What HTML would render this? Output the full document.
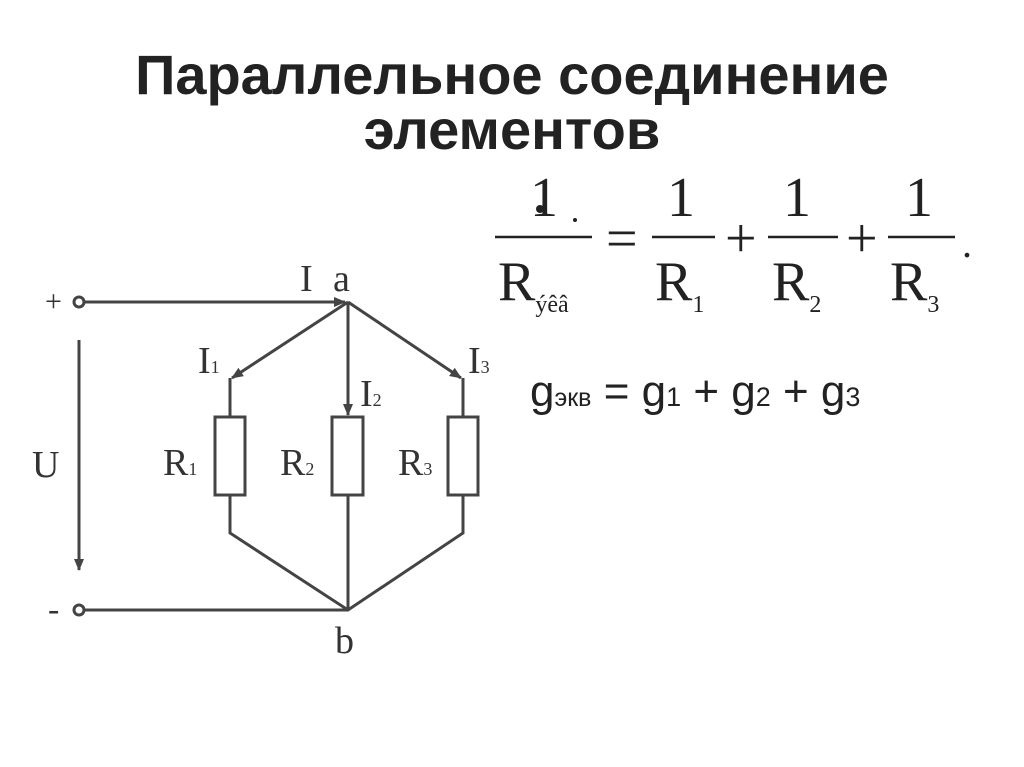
<!DOCTYPE html>
<html><head><meta charset="utf-8"><style>
body{margin:0;background:#fff;width:1024px;height:767px;overflow:hidden;position:relative}
.t{position:absolute;left:0;width:1024px;text-align:center;font:bold 56px "Liberation Sans",sans-serif;color:#222;line-height:55px;top:47px}
svg{position:absolute;left:0;top:0}
</style></head><body>
<div class="t">Параллельное соединение<br>элементов</div>
<svg width="1024" height="767" viewBox="0 0 1024 767">
<defs><marker id="ar" markerWidth="12" markerHeight="10" refX="11" refY="5" orient="auto" markerUnits="userSpaceOnUse"><path d="M0,0 L12,5 L0,10 z" fill="#444"/></marker></defs>
<g stroke="#444" stroke-width="3" fill="none">
<circle cx="79" cy="302" r="5" fill="#fff"/>
<circle cx="79" cy="610" r="5" fill="#fff"/>
<line x1="84" y1="302" x2="345" y2="302" marker-end="url(#ar)"/>
<line x1="84" y1="610" x2="348" y2="610"/>
<line x1="79" y1="340" x2="79" y2="570" marker-end="url(#ar)"/>
<line x1="348" y1="302" x2="232" y2="378" marker-end="url(#ar)"/>
<line x1="348" y1="302" x2="461" y2="378" marker-end="url(#ar)"/>
<line x1="348" y1="302" x2="348" y2="415" marker-end="url(#ar)"/>
<polyline points="230,378 230,417"/><polyline points="463,378 463,417"/>
<rect x="215" y="417" width="30" height="78"/>
<rect x="332" y="417" width="31" height="78"/>
<rect x="448" y="417" width="30" height="78"/>
<polyline points="230,495 230,533 348,610 463,533 463,495"/>
<line x1="348" y1="495" x2="348" y2="610"/>
</g>
<g font-family="Liberation Serif,serif" fill="#333" font-size="38">
<text x="45" y="311" font-size="30">+</text>
<text x="48" y="620" font-size="34">-</text>
<text x="300" y="291">I</text><text x="333" y="291">a</text>
<text x="198" y="373">I<tspan font-size="18">1</tspan></text>
<text x="360" y="406">I<tspan font-size="18">2</tspan></text>
<text x="468" y="373">I<tspan font-size="18">3</tspan></text>
<text x="163" y="475">R<tspan font-size="18">1</tspan></text>
<text x="280" y="475">R<tspan font-size="18">2</tspan></text>
<text x="398" y="475">R<tspan font-size="18">3</tspan></text>
<text x="32" y="477">U</text>
<text x="335" y="653">b</text>
</g>
<g font-family="Liberation Serif,serif" fill="#222" font-size="56" stroke="none">
<text x="530" y="216">1</text>
<circle cx="540" cy="209" r="4" fill="#222"/><circle cx="575" cy="220" r="2" fill="#222"/>
<text x="498" y="300">R<tspan font-size="24" dy="12">ýêâ</tspan></text>
<text x="667" y="216">1</text>
<text x="655" y="300">R<tspan font-size="24" dy="12">1</tspan></text>
<text x="783" y="216">1</text>
<text x="772" y="300">R<tspan font-size="24" dy="12">2</tspan></text>
<text x="905" y="216">1</text>
<text x="890" y="300">R<tspan font-size="24" dy="12">3</tspan></text>
<text x="606" y="257">=</text>
<text x="725" y="257">+</text>
<text x="846" y="257">+</text>
<text x="962" y="257" font-size="40">.</text>
</g>
<g stroke="#222" stroke-width="2.5">
<line x1="495" y1="237" x2="592" y2="237"/>
<line x1="652" y1="237" x2="715" y2="237"/>
<line x1="768" y1="237" x2="838" y2="237"/>
<line x1="888" y1="237" x2="955" y2="237"/>
</g>
<text x="530" y="406" font-family="Liberation Sans,sans-serif" font-size="44" fill="#222">g<tspan font-size="25">экв</tspan> = g<tspan font-size="27">1</tspan> + g<tspan font-size="27">2</tspan> + g<tspan font-size="27">3</tspan></text>
</svg>
</body></html>
